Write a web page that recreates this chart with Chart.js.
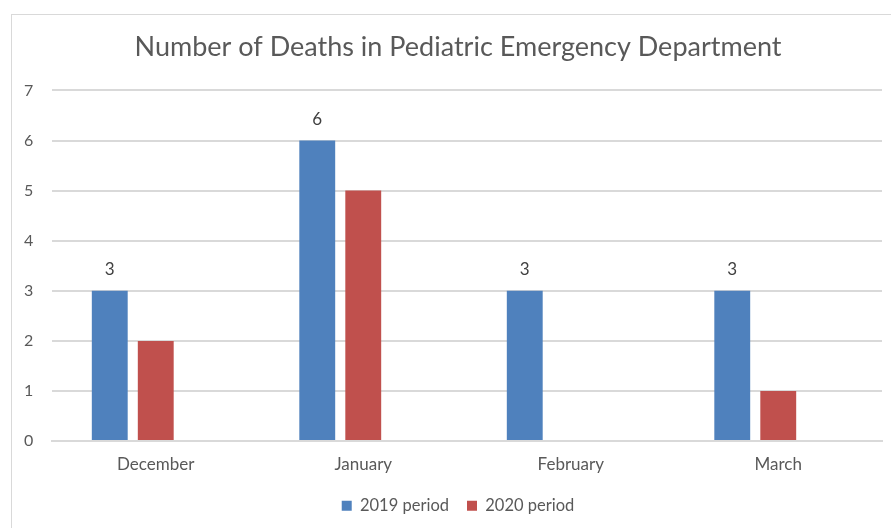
<!DOCTYPE html>
<html>
<head>
<meta charset="utf-8">
<script src="https://cdn.jsdelivr.net/npm/chart.js@4"></script>
<style>
    body { margin: 0; background: #fff; overflow: hidden; }
    #frame { position: absolute; left: 11px; top: 14px; width: 900px; height: 600px; border: 1px solid #d9d9d9; }
    #wrap { position: absolute; left: 0; top: 0; width: 917px; height: 528px; }
</style>
</head>
<body>
<div id="frame"></div>
<div id="wrap"><canvas id="deathsChart"></canvas></div>
<script>
const months = ['December', 'January', 'February', 'March'];
const period2019 = [3, 6, 3, 3];
const period2020 = [2, 5, 0, 1];
const emptySeries = [null, null, null, null];
const yTicks = [0, 1, 2, 3, 4, 5, 6, 7];

const fontName = 'Lato, "Liberation Sans", sans-serif';
const textGray = '#595959';

// value labels above the 2019 bars only
const barLabels = {
    id: 'barLabels',
    afterDatasetsDraw(chart) {
        const ctx = chart.ctx;
        const meta = chart.getDatasetMeta(0);
        ctx.save();
        ctx.font = '17px ' + fontName;
        ctx.fillStyle = '#404040';
        ctx.textAlign = 'center';
        ctx.textBaseline = 'middle';
        meta.data.forEach((bar, i) => {
            ctx.fillText(period2019[i], bar.x, bar.y - 21);
        });
        ctx.restore();
    }
};

new Chart(document.getElementById('deathsChart'), {
    type: 'bar',
    data: {
        labels: months,
        datasets: [
            { label: '2019 period', data: period2019, backgroundColor: '#4F81BD' },
            { label: '2020 period', data: period2020, backgroundColor: '#C0504D' },
            { label: '', data: emptySeries, backgroundColor: 'rgba(0,0,0,0)' }
        ]
    },
    options: {
        responsive: true,
        maintainAspectRatio: false,
        animation: false,
        categoryPercentage: 0.665,
        barPercentage: 0.78,
        layout: { padding: { left: 34, right: 35, top: 0, bottom: 4 } },
        plugins: {
            title: {
                display: true,
                text: 'Number of Deaths in Pediatric Emergency Department',
                color: textGray,
                font: { family: fontName, size: 27, weight: 'normal' },
                padding: { top: 31, bottom: 27 }
            },
            legend: {
                position: 'bottom',
                labels: {
                    color: textGray,
                    font: { family: fontName, size: 16.5 },
                    boxWidth: 10,
                    boxHeight: 10,
                    padding: 18,
                    filter: item => item.text !== ''
                }
            },
            tooltip: { enabled: false }
        },
        scales: {
            x: {
                grid: { display: false },
                border: { color: '#d9d9d9', width: 2 },
                ticks: { color: textGray, font: { family: fontName, size: 17 }, padding: 5 }
            },
            y: {
                min: 0,
                max: 7,
                afterBuildTicks: axis => { axis.ticks = yTicks.map(v => ({ value: v })); },
                afterFit: axis => { axis.width = 18; },
                grid: { color: '#d9d9d9', lineWidth: 2, drawTicks: false },
                border: { display: false },
                // mirrored so the labels are not clipped to the narrow axis box
                ticks: { color: textGray, font: { family: fontName, size: 16 }, mirror: true, padding: -28 }
            }
        }
    },
    plugins: [barLabels]
});
</script>
</body>
</html>
